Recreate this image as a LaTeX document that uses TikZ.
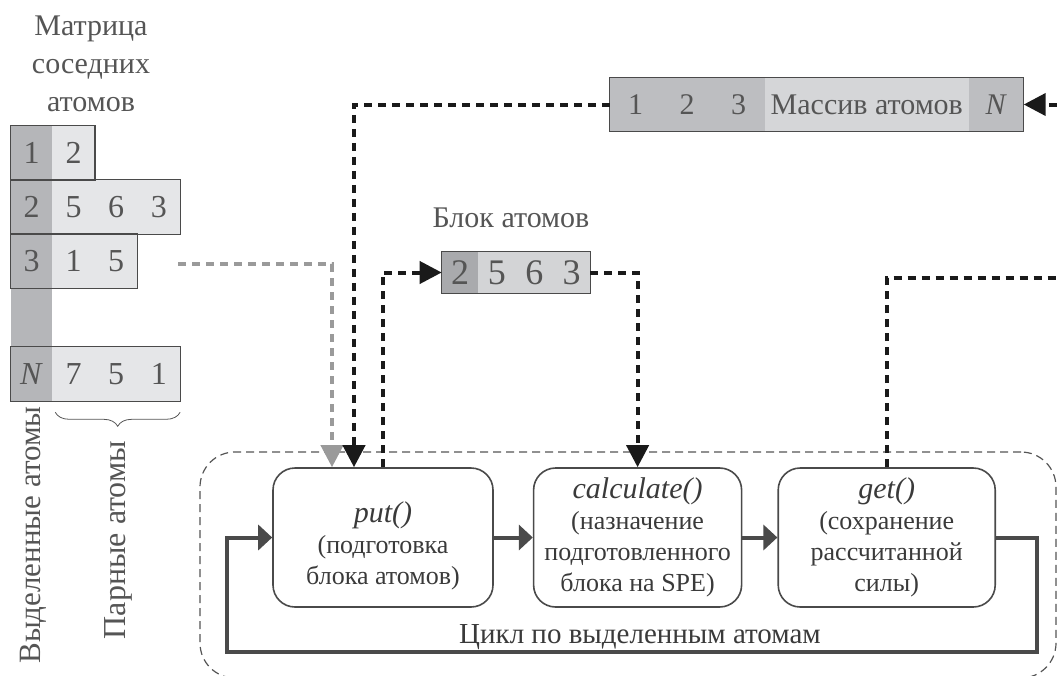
\documentclass[tikz,border=0pt]{standalone}
\usepackage{fontspec}
\setmainfont{Liberation Serif}
\usetikzlibrary{positioning, arrows.meta, decorations.pathreplacing, calc}

\definecolor{txtgray}{HTML}{555555}
\definecolor{txtdark}{HTML}{3A3A3A}
\definecolor{linegray}{HTML}{4A4A4A}
\definecolor{mdark}{HTML}{B5B6B9}
\definecolor{mlight}{HTML}{E5E6E8}
\definecolor{bdark}{HTML}{A9AAAD}
\definecolor{blight}{HTML}{D3D4D6}
\definecolor{adark}{HTML}{BDBEC1}
\definecolor{alight}{HTML}{D5D6D8}
\definecolor{arrgray}{HTML}{9A9A9A}
\definecolor{arrblack}{HTML}{1A1A1A}

\newcommand{\fname}[1]{{\fontsize{30}{31}\selectfont\itshape #1}}

\tikzset{
	cell/.style={inner sep=0pt, text=txtgray, line width=0.6pt},
	mcellA/.style={cell, fill=mdark, draw=mdark, minimum width=41pt, minimum height=54pt, font=\fontsize{32}{32}\selectfont},
	mcellB/.style={cell, fill=mlight, draw=mlight, minimum width=42pt, minimum height=54pt, font=\fontsize{32}{32}\selectfont},
	acellA/.style={cell, fill=adark, draw=adark, minimum width=51pt, minimum height=53pt, font=\fontsize{30}{30}\selectfont},
	acellB/.style={cell, fill=alight, draw=alight, minimum width=204pt, minimum height=53pt, font=\fontsize{30}{30}\selectfont},
	bcellA/.style={cell, fill=bdark, draw=bdark, minimum width=36pt, minimum height=41pt, font=\fontsize{36}{36}\selectfont},
	bcellB/.style={cell, fill=blight, draw=blight, minimum width=36.7pt, minimum height=41pt, font=\fontsize{36}{36}\selectfont},
	rowline/.style={draw=linegray, line width=1.2pt},
	proc/.style={draw=linegray, line width=1.6pt, rounded corners=22pt, minimum height=139pt,
		align=center, inner sep=0pt, text=txtdark, font=\fontsize{26}{31}\selectfont},
	label/.style={inner sep=0pt, text=txtgray},
	dashblk/.style={draw=arrblack, line width=4pt, dash pattern=on 8pt off 6pt,
		-{Triangle[length=22pt, width=22pt]}},
	dashgry/.style={draw=arrgray, line width=4pt, dash pattern=on 8pt off 6pt,
		-{Triangle[length=22pt, width=22pt]}},
	loopln/.style={draw=linegray, line width=4pt},
	looptip/.style={-{Triangle[length=14pt, width=25pt]}},
	frame/.style={draw=txtgray, line width=1.2pt, dash pattern=on 8pt off 5pt, rounded corners=35pt},
}

\begin{document}
\begin{tikzpicture}[x=1pt, y=-1pt]
	\useasboundingbox (0,0) rectangle (1057,675);

	% matrix of neighbours
	\node[label, align=center, font=\fontsize{30}{38}\selectfont] (mtitle) at (91,64) {Матрица\\соседних\\атомов};
	\node[mcellA] (m1) at (31.5,153) {1};
	\node[mcellB, right=0pt of m1] (m1a) {2};
	\node[mcellA] (m2) at (31.5,207) {2};
	\node[mcellB, right=0pt of m2] (m2a) {5};
	\node[mcellB, right=0pt of m2a] (m2b) {6};
	\node[mcellB, right=0pt of m2b] (m2c) {3};
	\node[mcellA] (m3) at (31.5,261) {3};
	\node[mcellB, right=0pt of m3] (m3a) {1};
	\node[mcellB, right=0pt of m3a] (m3b) {5};
	\node[mcellA] (mN) at (31.5,374) {\textit{N}};
	\node[mcellB, right=0pt of mN] (mNa) {7};
	\node[mcellB, right=0pt of mNa] (mNb) {5};
	\node[mcellB, right=0pt of mNb] (mNc) {1};
	\fill[mdark] (m3.south west) rectangle (mN.north east);
	\draw[rowline] (m1.north west) rectangle (m1a.south east);
	\draw[rowline] (m2.north west) rectangle (m2c.south east);
	\draw[rowline] (m3.north west) rectangle (m3b.south east);
	\draw[rowline] (mN.north west) rectangle (mNc.south east);

	\draw[draw=txtgray, line width=0.8pt, decorate, decoration={brace, mirror, amplitude=14pt}]
		($(mNa.south west)+(3,11)$) -- ($(mNc.south east)+(0,11)$);
	\node[label, rotate=90, font=\fontsize{31}{31}\selectfont] (sel) at (33,535) {Выделенные атомы};
	\node[label, rotate=90, font=\fontsize{32}{32}\selectfont] (pair) at (118,540) {Парные атомы};

	% array of atoms
	\node[acellA] (a1) at (635.5,104.5) {1};
	\node[acellA, right=0pt of a1] (a2) {2};
	\node[acellA, right=0pt of a2] (a3) {3};
	\node[acellB, right=0pt of a3] (aT) {Массив атомов};
	\node[acellA, right=0pt of aT, minimum width=54pt] (aN) {\textit{N}};
	\draw[rowline] (a1.north west) rectangle (aN.south east);

	% block of atoms
	\node[label, anchor=base, font=\fontsize{30}{30}\selectfont] (btitle) at (511,227) {Блок атомов};
	\node[bcellA] (b1) at (460,272.5) {2};
	\node[bcellB, right=0pt of b1] (b2) {5};
	\node[bcellB, right=0pt of b2] (b3) {6};
	\node[bcellB, right=0pt of b3] (b4) {3};
	\draw[rowline] (b1.north west) rectangle (b4.south east);

	% loop
	\node[frame, minimum width=856pt, minimum height=226pt] (cyc) at (628,565) {};
	\node[proc, minimum width=220pt] (put) at (383,537.5) {\fname{\rule{0pt}{38pt}put()}\\(подготовка\\блока атомов)};
	\node[proc, minimum width=208pt, right=39pt of put] (calc) {\fname{calculate()}\\(назначение\\подготовленного\\блока на SPE)};
	\node[proc, minimum width=217pt, right=35pt of calc] (get) {\fname{get()}\\(сохранение\\рассчитанной\\силы)};
	\node[label, anchor=base, text=txtdark, font=\fontsize{29}{29}\selectfont] (cyctxt) at (640,643) {Цикл по выделенным атомам};

	\coordinate (lpR) at (1037,652);
	\coordinate (lpL) at (227,652);
	\draw[loopln, looptip] (put) -- (calc);
	\draw[loopln, looptip] (calc) -- (get);
	\draw[loopln, looptip] (get.east) -| (lpR) -- (lpL) |- (put.west);

	% data flow
	\coordinate (gsrc) at (178,264);
	\coordinate (pinG) at ($(put.north)+(-51,0)$);
	\coordinate (pinB) at ($(put.north)+(-29,0)$);
	\coordinate (exR1) at (1057,104.5);
	\coordinate (exR2) at (1057,278);
	\draw[dashgry] (gsrc) -| (pinG);
	\draw[dashblk] (a1.west) -| (pinB);
	\draw[dashblk] (put.north) |- (b1.west);
	\draw[dashblk] (b4.east) -| (calc.north);
	\draw[dashblk, -] (get.north) |- (exR2);
	\draw[dashblk] (exR1) -- (aN.east);
\end{tikzpicture}
\end{document}
